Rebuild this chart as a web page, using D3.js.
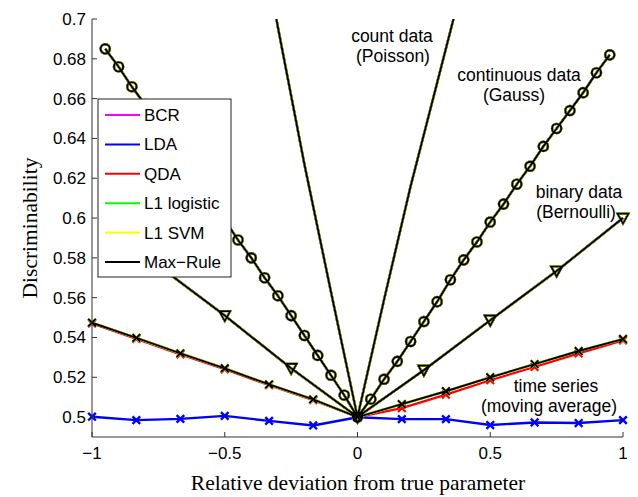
<!DOCTYPE html>
<html><head><meta charset="utf-8">
<script src="https://cdn.jsdelivr.net/npm/d3@7"></script>
<style>body{margin:0;background:#fff}svg{display:block}</style>
</head><body>
<svg id="c" width="638" height="497"></svg>
<script>
// ---- data ----
const methods = ["BCR", "LDA", "QDA", "L1 logistic", "L1 SVM", "Max-Rule"];
const xTicks = [-1, -0.5, 0, 0.5, 1];
const yTicks = [0.5, 0.52, 0.54, 0.56, 0.58, 0.6, 0.62, 0.64, 0.66, 0.68, 0.7];

const gaussX = [-0.95,-0.9,-0.85,-0.8,-0.75,-0.7,-0.65,-0.6,-0.55,-0.5,-0.45,-0.4,-0.35,-0.3,-0.25,-0.2,-0.15,-0.1,-0.05,0,
                0.05,0.1,0.15,0.2,0.25,0.3,0.35,0.4,0.45,0.5,0.55,0.6,0.65,0.7,0.75,0.8,0.85,0.9,0.95];
const gaussY = [0.685,0.676,0.666,0.657,0.647,0.637,0.628,0.618,0.608,0.599,0.589,0.580,0.570,0.561,0.551,0.541,0.531,0.521,0.511,0.500,
                0.509,0.519,0.528,0.538,0.548,0.558,0.569,0.579,0.588,0.598,0.607,0.617,0.626,0.636,0.645,0.654,0.663,0.673,0.682];

const bernX = [-0.75,-0.5,-0.25,0,0.25,0.5,0.75,1];
const bernY = [0.576,0.551,0.5245,0.5,0.5236,0.5487,0.5734,0.600];

const poisX = [-0.4,-0.3,-0.2,-0.1,0,0.1,0.2,0.3,0.4];
const poisY = [0.770,0.696,0.627,0.563,0.5,0.559,0.616,0.668,0.720];

const tsX = [-1,-0.833,-0.667,-0.5,-0.333,-0.167,0,0.167,0.333,0.5,0.667,0.833,1];
const tsMax = [0.5474,0.5398,0.532,0.5245,0.5164,0.5089,0.5,0.5065,0.513,0.520,0.5266,0.5332,0.5392];
const tsQDA = [0.547,0.5393,0.5315,0.524,0.516,0.5085,0.5,0.5045,0.5113,0.5185,0.5252,0.532,0.5385];
const tsLDA = [0.5002,0.4985,0.4991,0.5006,0.4981,0.4958,0.4999,0.499,0.499,0.496,0.4973,0.497,0.4985];

const annotations = [
  ["count data", "(Poisson)"],
  ["continuous data", "(Gauss)"],
  ["binary data", "(Bernoulli)"],
  ["time series", "(moving average)"]
];

// ---- style ----
const colors = ["#ff00ff", "#0000ff", "#ff0000", "#00ff00", "#ffff00", "#000000"];
const annPos = [[392,42,393,62],[519,81,514,101],[579,198,576,218],[556,392,549,412]];
const FONT = "'Liberation Sans', Arial, Helvetica, sans-serif";
const SERIF = "'Liberation Serif', 'Times New Roman', serif";

const svg = d3.select("#c");
const x = d3.scaleLinear().domain([-1, 1]).range([92, 623]);
const y = d3.scaleLinear().domain([0.49, 0.7]).range([437, 19]);

svg.append("defs").append("clipPath").attr("id", "clip")
  .append("rect").attr("x", 0).attr("y", 19).attr("width", 638).attr("height", 418);

const datasets = [
  {name: "pois", xs: poisX, ys: () => poisY, marker: null},
  {name: "gauss", xs: gaussX, ys: () => gaussY, marker: "o"},
  {name: "bern", xs: bernX, ys: () => bernY, marker: "v"},
  {name: "ts", xs: tsX, ys: m => m === "LDA" ? tsLDA : (m === "QDA" ? tsQDA : tsMax), marker: "x"}
];

const plot = svg.append("g").attr("clip-path", "url(#clip)");
const line = d3.line().x(d => x(d[0])).y(d => y(d[1]));

function drawMarker(g, px, py, type, col, w) {
  if (type === "o") {
    g.append("circle").attr("cx", px).attr("cy", py).attr("r", 4.6)
      .attr("fill", "none").attr("stroke", col).attr("stroke-width", w);
  } else if (type === "v") {
    g.append("path").attr("d", `M${px-5.5},${py-4.5}L${px+5.5},${py-4.5}L${px},${py+5.5}Z`)
      .attr("fill", "none").attr("stroke", col).attr("stroke-width", w - 0.2);
  } else if (type === "x") {
    const s = 3.8;
    g.append("path").attr("d", `M${px-s},${py-s}L${px+s},${py+s}M${px-s},${py+s}L${px+s},${py-s}`)
      .attr("stroke", col).attr("stroke-width", w).attr("fill", "none");
  }
}

methods.forEach((m, mi) => {
  const col = colors[mi];
  const g = plot.append("g");
  const w = mi === 5 ? 1.9 : (mi === 1 ? 2.4 : 2.2);
  datasets.forEach(ds => {
    const ys = ds.ys(m);
    const pts = ds.xs.map((v, i) => [v, ys[i]]);
    g.append("path").attr("d", line(pts)).attr("fill", "none")
      .attr("stroke", col).attr("stroke-width", w)
      .attr("stroke-linejoin", "round");
    if (ds.marker) pts.forEach(p => drawMarker(g, x(p[0]), y(p[1]), ds.marker, col, w));
  });
});

// axes
const axCol = "#333";
svg.append("line").attr("x1", 92).attr("x2", 92).attr("y1", 19).attr("y2", 437)
  .attr("stroke", axCol).attr("stroke-width", 1);
svg.append("line").attr("x1", 92).attr("x2", 623).attr("y1", 437).attr("y2", 437)
  .attr("stroke", axCol).attr("stroke-width", 1);

yTicks.forEach(t => {
  svg.append("line").attr("x1", 92).attr("x2", 97).attr("y1", y(t)).attr("y2", y(t))
    .attr("stroke", axCol);
  svg.append("text").attr("x", 86).attr("y", y(t) + 6).attr("text-anchor", "end")
    .attr("font-family", FONT).attr("font-size", 17).text(d3.format("")(t));
});
xTicks.forEach(t => {
  svg.append("line").attr("x1", x(t)).attr("x2", x(t)).attr("y1", 437).attr("y2", 432)
    .attr("stroke", axCol);
  svg.append("text").attr("x", x(t)).attr("y", 459).attr("text-anchor", "middle")
    .attr("font-family", FONT).attr("font-size", 17)
    .text(t < 0 ? "\u2212" + Math.abs(t) : String(t));
});

// axis labels
svg.append("text").attr("x", 358).attr("y", 490).attr("text-anchor", "middle")
  .attr("font-family", SERIF).attr("font-size", 21.5).text("Relative deviation from true parameter");
svg.append("text").attr("transform", "translate(37,228) rotate(-90)").attr("text-anchor", "middle")
  .attr("font-family", SERIF).attr("font-size", 21.5).text("Discriminability");

// annotations
annotations.forEach((a, i) => {
  const p = annPos[i];
  svg.append("text").attr("x", p[0]).attr("y", p[1]).attr("text-anchor", "middle")
    .attr("font-family", FONT).attr("font-size", 17.5).text(a[0]);
  svg.append("text").attr("x", p[2]).attr("y", p[3]).attr("text-anchor", "middle")
    .attr("font-family", FONT).attr("font-size", 17.5).text(a[1]);
});

// legend
const lg = svg.append("g");
lg.append("rect").attr("x", 98).attr("y", 99).attr("width", 133).attr("height", 178)
  .attr("fill", "#fff").attr("stroke", "#222").attr("stroke-width", 1);
methods.forEach((m, i) => {
  const yy = 115 + i * 29.4;
  lg.append("line").attr("x1", 105).attr("x2", 140).attr("y1", yy).attr("y2", yy)
    .attr("stroke", colors[i]).attr("stroke-width", 2);
  lg.append("text").attr("x", 144).attr("y", yy + 6).attr("font-family", FONT)
    .attr("font-size", 17).text(m.replace("-", "\u2212"));
});
</script>
</body></html>
